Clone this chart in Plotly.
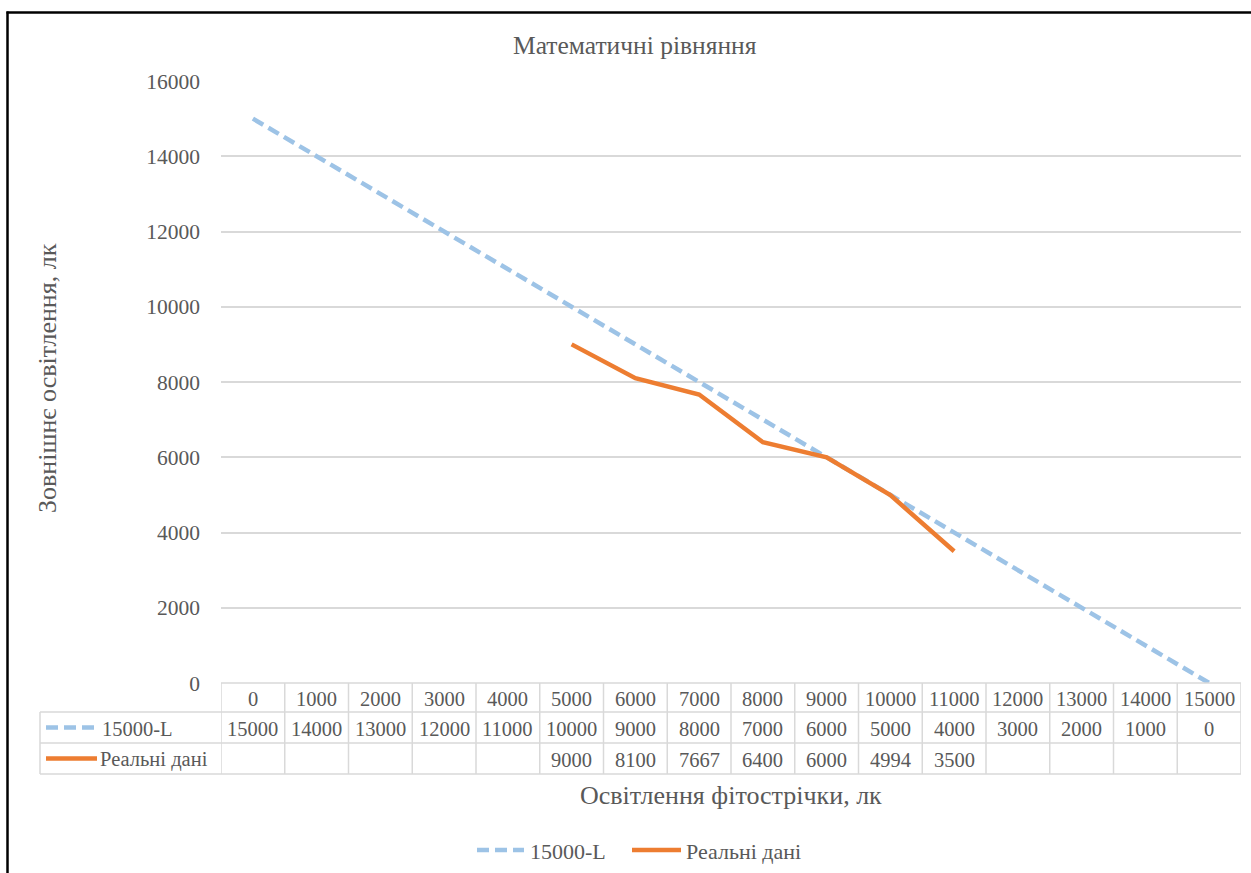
import plotly.graph_objects as go

# ---- data ----
light = [0, 1000, 2000, 3000, 4000, 5000, 6000, 7000, 8000, 9000, 10000, 11000, 12000, 13000, 14000, 15000]
model = [15000, 14000, 13000, 12000, 11000, 10000, 9000, 8000, 7000, 6000, 5000, 4000, 3000, 2000, 1000, 0]
real = [None, None, None, None, None, 9000, 8100, 7667, 6400, 6000, 4994, 3500, None, None, None, None]
series_names = ["15000-L", "Реальні дані"]
title = "Математичні рівняння"
x_title = "Освітлення фітострічки, лк"
y_title = "Зовнішнє освітлення, лк"

W, H = 1251, 873
FONT = "Liberation Serif"
GREY = "#595959"
GRID = "#d9d9d9"
BLUE = "#9dc3e6"
ORANGE = "#ed7d31"
DASH = "12px,6px"


def px(x):
    return x / W


def py(y):
    return 1 - y / H


PLOT_L, PLOT_R, PLOT_T, PLOT_B = 221, 1241, 81, 683
ROWS = [683, 712, 743, 774]
TABLE_L = 40
step = 1000
TFS = 20.5

fig = go.Figure()
fig.add_trace(go.Scatter(x=light, y=model, mode="lines", name=series_names[0],
                         line=dict(color=BLUE, width=4.5, dash=DASH)))
fig.add_trace(go.Scatter(x=light, y=real, mode="lines", name=series_names[1],
                         line=dict(color=ORANGE, width=4.5)))

shapes = []
annotations = []


def txt(x, y, text, size, xref="paper", xanchor="center", angle=0):
    annotations.append(dict(x=x, y=y, xref=xref, yref="paper", text=text, showarrow=False,
                            xanchor=xanchor, yanchor="middle", textangle=angle,
                            font=dict(family=FONT, size=size, color=GREY)))


# table horizontal lines
shapes.append(dict(type="line", xref="x", yref="paper", x0=light[0] - step / 2, x1=light[-1] + step / 2,
                   y0=py(ROWS[0]), y1=py(ROWS[0]), line=dict(color=GRID, width=1.5)))
for r in ROWS[1:]:
    shapes.append(dict(type="line", xref="paper", yref="paper", x0=px(TABLE_L), x1=px(PLOT_R),
                       y0=py(r), y1=py(r), line=dict(color=GRID, width=1.5)))
# table vertical lines
for v in light + [light[-1] + step]:
    shapes.append(dict(type="line", xref="x", yref="paper", x0=v - step / 2, x1=v - step / 2,
                       y0=py(ROWS[0]), y1=py(ROWS[3]), line=dict(color=GRID, width=1.5)))
shapes.append(dict(type="line", xref="paper", yref="paper", x0=px(TABLE_L), x1=px(TABLE_L),
                   y0=py(ROWS[1]), y1=py(ROWS[3]), line=dict(color=GRID, width=1.5)))

# table text
for i, v in enumerate(light):
    txt(v, py((ROWS[0] + ROWS[1]) / 2 + 1), str(v), TFS, xref="x")
    txt(v, py((ROWS[1] + ROWS[2]) / 2 + 1), str(model[i]), TFS, xref="x")
    if real[i] is not None:
        txt(v, py((ROWS[2] + ROWS[3]) / 2 + 1), str(real[i]), TFS, xref="x")

# legend keys inside the table
y1 = py((ROWS[1] + ROWS[2]) / 2)
y2 = py((ROWS[2] + ROWS[3]) / 2)
shapes.append(dict(type="line", xref="paper", yref="paper", x0=px(46), x1=px(95), y0=y1, y1=y1,
                   line=dict(color=BLUE, width=4.5, dash=DASH)))
shapes.append(dict(type="line", xref="paper", yref="paper", x0=px(46), x1=px(97), y0=y2, y1=y2,
                   line=dict(color=ORANGE, width=4.5)))
txt(px(100), py((ROWS[1] + ROWS[2]) / 2 + 1), series_names[0], TFS, xanchor="left")
txt(px(98), py((ROWS[2] + ROWS[3]) / 2 + 1), series_names[1], TFS, xanchor="left")

# bottom legend (drawn manually to match positions)
ly = py(850)
shapes.append(dict(type="line", xref="paper", yref="paper", x0=px(477), x1=px(524), y0=ly, y1=ly,
                   line=dict(color=BLUE, width=4.5, dash=DASH)))
shapes.append(dict(type="line", xref="paper", yref="paper", x0=px(632), x1=px(681), y0=ly, y1=ly,
                   line=dict(color=ORANGE, width=4.5)))
txt(px(528), py(851), series_names[0], 22, xanchor="left")
txt(px(684), py(851), series_names[1], 22, xanchor="left")

# titles
txt(px(635), py(45), title, 25.5)
txt(px(47), py(378), y_title, 26, angle=-90)
txt(px(731), py(795), x_title, 26)

# outer border (top and left visible)
shapes.append(dict(type="line", xref="paper", yref="paper", x0=px(6.5), x1=1, y0=py(12.5), y1=py(12.5),
                   line=dict(color="black", width=2.5)))
shapes.append(dict(type="line", xref="paper", yref="paper", x0=px(7.5), x1=px(7.5), y0=py(11.5), y1=0,
                   line=dict(color="black", width=2.5)))

fig.update_layout(
    width=W, height=H,
    margin=dict(l=0, r=0, t=0, b=0, autoexpand=False),
    paper_bgcolor="white", plot_bgcolor="white",
    showlegend=False,
    xaxis=dict(domain=[px(PLOT_L), px(PLOT_R)], range=[light[0] - step / 2, light[-1] + step / 2],
               showticklabels=False, showgrid=False, zeroline=False, showline=False, ticks=""),
    yaxis=dict(domain=[py(PLOT_B), py(PLOT_T)], range=[0, 16000], dtick=2000,
               showgrid=True, gridcolor=GRID, gridwidth=1.5, zeroline=False, showline=False, ticks="",
               ticklabelstandoff=20, tickformat="d",
               tickfont=dict(family=FONT, size=21.5, color=GREY)),
    shapes=shapes,
    annotations=annotations,
)

fig.write_html("out.html", config={"displayModeBar": False},
               post_script="document.body.style.margin='0';")
